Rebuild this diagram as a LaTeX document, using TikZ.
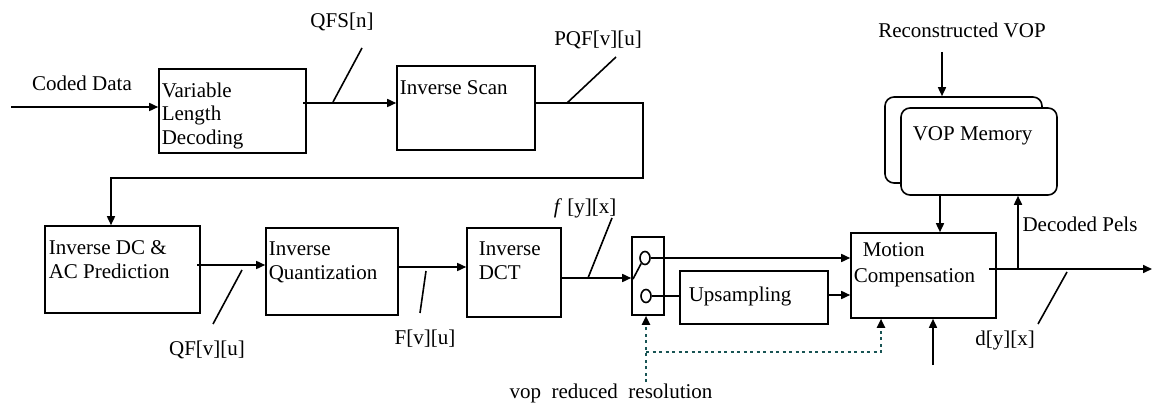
\documentclass[tikz,border=0pt]{standalone}
\usepackage{fontspec}
\setmainfont{Liberation Serif}
\usetikzlibrary{arrows.meta,calc,fit,shapes.geometric}
\definecolor{teal2}{RGB}{25,85,85}
\begin{document}
\begin{tikzpicture}[x=1pt,y=-1pt,line width=1.6pt,
  box/.style={draw, line width=1.6pt, inner sep=0pt},
  txt/.style={font=\fontsize{21}{23.5}\selectfont, inner sep=0pt},
  btxt/.style={txt, anchor=north west, align=left},
  arr/.style={-{Triangle[length=9pt,width=8pt]}},
  dotline/.style={draw=teal2, line width=2pt, dash pattern=on 3pt off 3.5pt},
  dotarr/.style={-{Triangle[length=9pt,width=8pt,color=black]}},
  mem/.style={draw, fill=white, line width=1.6pt, inner sep=0pt, rounded corners=9pt},
  swc/.style={draw, ellipse, line width=1.6pt, minimum width=10pt, minimum height=13pt, inner sep=0pt}
]
\useasboundingbox (0,0) rectangle (1153,403);

% ---------- boxes ----------
\node[box, fit={(159,69) (306,153)}] (vld) {};
\node[box, fit={(397,66) (535,150)}] (iscan) {};
\node[box, fit={(45,226) (200,313)}] (idc) {};
\node[box, fit={(266,228) (398,315)}] (iq) {};
\node[box, fit={(467,228) (561,317)}] (idct) {};
\node[box, fit={(632,237) (664,315)}] (sw) {};
\node[box, fit={(680,271) (828,324)}] (ups) {};
\node[box, fit={(851,233) (996,318)}] (mc) {};
\node[mem, fit={(885,97) (1042,183)}] (vopB) {};
\node[mem, fit={(901,108) (1057,195)}] (vopF) {};
\node[swc] (c1) at (645,258) {};
\node[swc] (c2) at (646,296) {};

% ---------- box texts ----------
\node[btxt] (vldT) at (161,82) {Variable\\Length\\Decoding};
\node[btxt] (iscanT) at (399,80) {Inverse Scan};
\node[btxt] (idcT) at (48,240) {Inverse DC \&\\AC Prediction};
\node[btxt] (iqT) at (268,241) {Inverse\\Quantization};
\node[btxt] (idctT) at (478,241) {Inverse\\DCT};
\node[btxt] (upsT) at (688,286) {Upsampling};
\node[btxt] (mcT1) at (862,242) {Motion};
\node[btxt] (mcT2) at (853,268) {Compensation};
\node[btxt] (vopT) at (912,126) {VOP Memory};

% ---------- labels ----------
\node[txt] (lCoded) at (82,83) {Coded Data};
\node[txt] (lQFS) at (342,22) {QFS[n]};
\node[txt] (lPQF) at (598,40) {PQF[v][u]};
\node[txt] (lQF) at (207,350) {QF[v][u]};
\node[txt] (lF) at (425,339) {F[v][u]};
\node[txt] (lf) at (585,208) {\textit{f} [y][x]};
\node[txt] (lRec) at (962,30) {Reconstructed VOP};
\node[txt] (lDec) at (1080,224) {Decoded Pels};
\node[txt] (ld) at (1005,340) {d[y][x]};
\node[txt] (lvop) at (611,393) {vop\ \ reduced\ \ resolution};

% ---------- coordinates ----------
\coordinate (cdIn) at (11,107);
\coordinate (vldOut) at (303,103);
\coordinate (isOut) at (535,103);
\coordinate (fb1) at (643,103);
\coordinate (fb2) at (643,178);
\coordinate (fb3) at (111,178);
\coordinate (idcOut) at (197,265);
\coordinate (iqOut) at (398,267);
\coordinate (idctOut) at (561,278);
\coordinate (lev) at (633,279);
\coordinate (vr0) at (646,382);
\coordinate (vrj) at (646,352);
\coordinate (vrk) at (881,352);
\coordinate (mcBot) at (933,365);
\coordinate (recS) at (942,52);
\coordinate (memOut) at (940,195);
\coordinate (mcOut) at (989,269);
\coordinate (dp) at (1018,269);
\coordinate (outEnd) at (1152,269);

% ---------- connectors ----------
\draw[arr] (cdIn) -- (cdIn -| vld.west);
\draw[arr] (vldOut) -- (vldOut -| iscan.west);
\draw[arr] (isOut) -- (fb1) -- (fb2) -- (fb3) -- (fb3 |- idc.north);
\draw[arr] (idcOut) -- (idcOut -| iq.west);
\draw[arr] (iqOut) -- (iqOut -| idct.west);
\draw[arr] (idctOut) -- (idctOut -| sw.west);
\draw (lev) -- (c1.235);
\draw[arr] (c1.east) -- (c1.east -| mc.west);
\draw (c2.east) -- (c2.east -| ups.west);
\draw[arr] (ups.east |- 0,295) -- (mc.west |- 0,295);
\draw[dotline, dotarr] (vr0) -- (vr0 |- sw.south);
\draw[dotline, dotarr] (vrj) -- (vrk) -- (vrk |- mc.south);
\draw[arr] (mcBot) -- (mcBot |- mc.south);
\draw[arr] (recS) -- (recS |- vopB.north);
\draw[arr] (memOut) -- (memOut |- mc.north);
\draw[arr] (mcOut) -- (outEnd);
\draw[arr] (dp) -- (dp |- vopF.south);

% ---------- label ticks ----------
\draw (333,102) -- (362,48);
\draw (567,103) -- (616,57);
\draw (242,270) -- (213,324);
\draw (426,271) -- (420,313);
\draw (588,278) -- (612,218);
\draw (1067,272) -- (1038,324);
\end{tikzpicture}
\end{document}
